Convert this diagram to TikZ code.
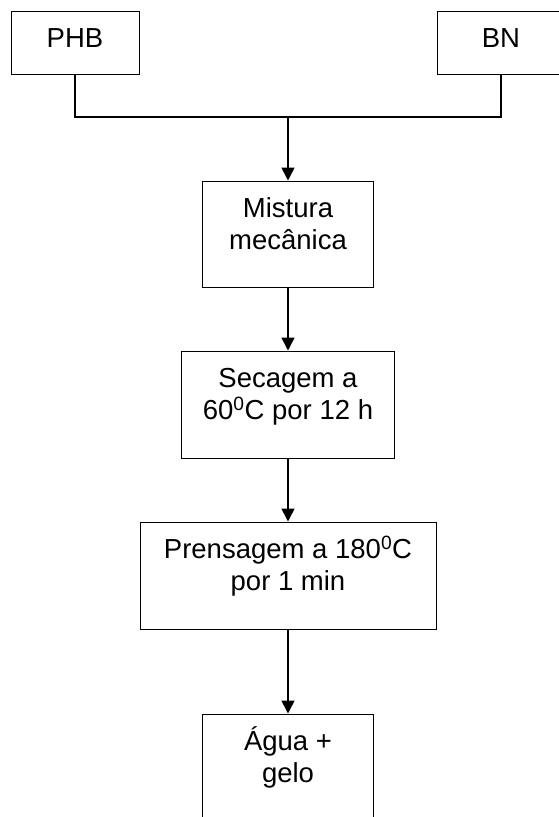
\documentclass[tikz,border=0pt]{standalone}
\usepackage{fontspec}
\setmainfont{Liberation Sans}
\usetikzlibrary{arrows.meta}

\newcommand{\capstrut}{\rule{0pt}{27pt}}

\tikzset{
  stagebox/.style={draw, line width=1pt, inner sep=0pt},
  stagetext/.style={align=center, inner sep=0pt, anchor=north,
    font=\fontsize{27.5}{32.5}\selectfont},
  flowline/.style={line width=1.3pt},
  flowarrow/.style={line width=1.6pt, -{Triangle[length=13pt,width=13pt]}}
}

\begin{document}
\begin{tikzpicture}[x=1pt,y=1pt]
\useasboundingbox (0,0) rectangle (559,-817);
\clip (0,0) rectangle (559,-817);

% raw materials
\node[stagebox, minimum width=128pt, minimum height=63pt] (phb) at (75,-42.5) {};
\node[stagebox, minimum width=128pt, minimum height=63pt] (bn) at (501,-42.5) {};
\node[stagetext] (phb-t) at ([yshift=-9.5pt]phb.north) {\capstrut PHB};
\node[stagetext] (bn-t) at ([yshift=-9.5pt]bn.north) {\capstrut BN};

% process steps
\node[stagebox, minimum width=170.6pt, minimum height=106pt] (mistura) at (288,-234) {};
\node[stagebox, minimum width=212.3pt, minimum height=107.5pt] (secagem) at (288,-404.75) {};
\node[stagebox, minimum width=296pt, minimum height=107.5pt] (prensagem) at (288,-575.75) {};
\node[stagebox, minimum width=170.6pt, minimum height=106pt] (agua) at (288,-767) {};

\node[stagetext] (mistura-t) at ([yshift=-9.5pt]mistura.north) {\capstrut Mistura\\mecânica};
\node[stagetext] (secagem-t) at ([yshift=-9.5pt]secagem.north) {\capstrut Secagem a\\60\textsuperscript{0}C por 12 h};
\node[stagetext] (prensagem-t) at ([yshift=-9.5pt]prensagem.north) {\capstrut Prensagem a 180\textsuperscript{0}C\\por 1 min};
\node[stagetext] (agua-t) at ([yshift=-9.5pt]agua.north) {\capstrut Água +\\gelo};

% connectors
\coordinate (join) at (288,-117);
\draw[flowline] (phb.south) |- (join) -| (bn.south);
\draw[flowarrow] (join) -- (mistura.north);
\draw[flowarrow] (mistura) -- (secagem);
\draw[flowarrow] (secagem) -- (prensagem);
\draw[flowarrow] (prensagem) -- (agua);
\end{tikzpicture}
\end{document}
